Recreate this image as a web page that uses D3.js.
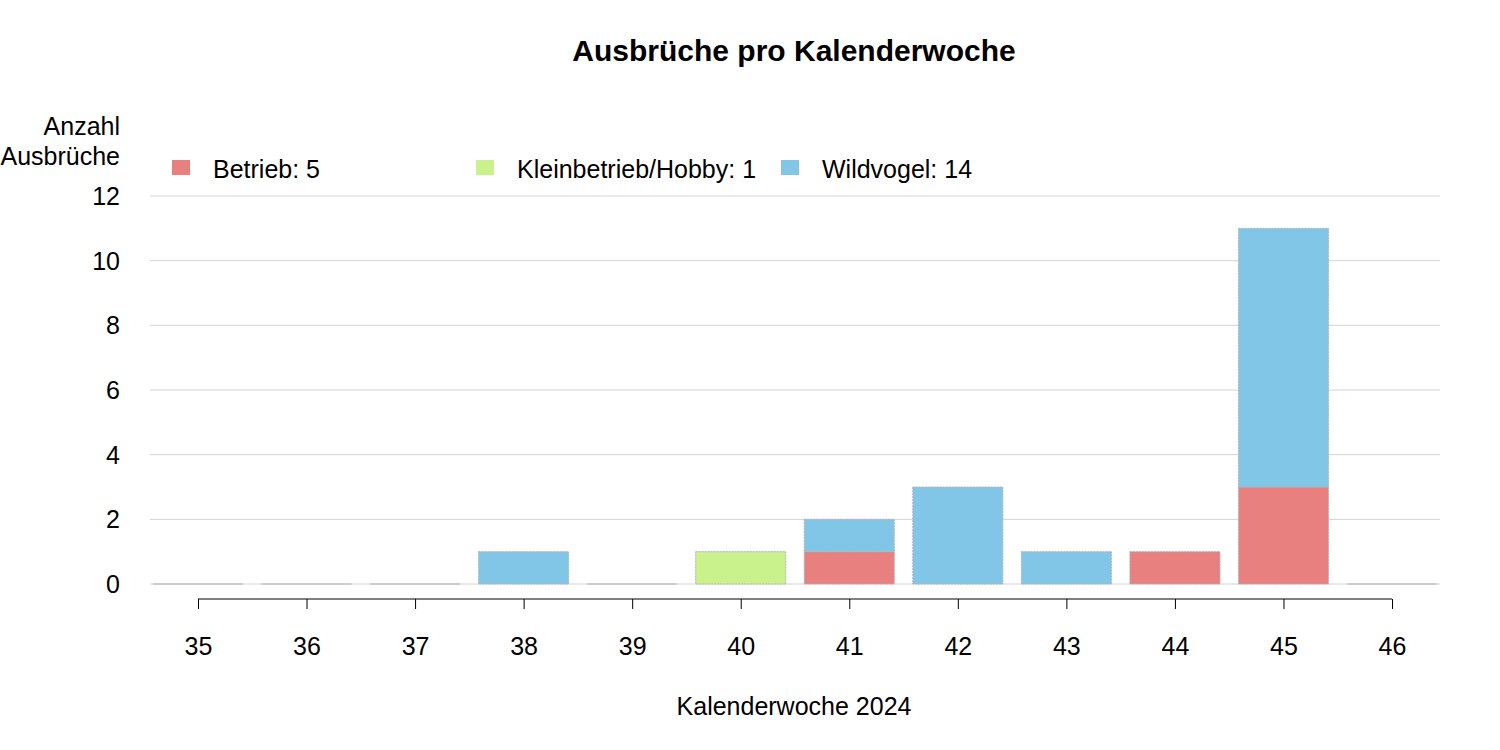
<!DOCTYPE html>
<html>
<head>
<meta charset="utf-8">
<script src="https://cdn.jsdelivr.net/npm/d3@7"></script>
<style>
  body { margin: 0; background: #fff; }
  text { font-family: "Liberation Sans", Arial, sans-serif; fill: #000; }
</style>
</head>
<body>
<svg id="chart" width="1500" height="750"></svg>
<script>
const weeks = [35, 36, 37, 38, 39, 40, 41, 42, 43, 44, 45, 46]
const betrieb = [0, 0, 0, 0, 0, 0, 1, 0, 0, 1, 3, 0]
const kleinbetrieb = [0, 0, 0, 0, 0, 1, 0, 0, 0, 0, 0, 0]
const wildvogel = [0, 0, 0, 1, 0, 0, 1, 3, 1, 0, 8, 0]
const seriesNames = ['Betrieb', 'Kleinbetrieb/Hobby', 'Wildvogel']
const colors = ['#e88080', '#c9f28c', '#82c6e7']
const yTicks = [0, 2, 4, 6, 8, 10, 12]

const svg = d3.select('#chart')
const fs = '25px'

const rows = weeks.map((w, i) => ({
    week: w, Betrieb: betrieb[i], 'Kleinbetrieb/Hobby': kleinbetrieb[i], Wildvogel: wildvogel[i]
}))

const x = d3.scaleBand().domain(weeks).range([143.7, 1446.3]).paddingInner(0.17).paddingOuter(0.085)
const y = d3.scaleLinear().domain([0, 12]).range([584, 196])

// Titel
svg.append('text').attr('x', 794).attr('y', 61).attr('text-anchor', 'middle')
    .style('font-size', '30px').style('font-weight', 'bold').text('Ausbrüche pro Kalenderwoche')

// Gitterlinien
svg.append('g').selectAll('line').data(yTicks).enter().append('line')
    .attr('x1', 150).attr('x2', 1440)
    .attr('y1', d => y(d)).attr('y2', d => y(d))
    .attr('stroke', '#d3d3d3').attr('stroke-width', 1)

// y Beschriftung
svg.append('g').selectAll('text').data(yTicks).enter().append('text')
    .attr('x', 120).attr('y', d => y(d) + 9).attr('text-anchor', 'end')
    .style('font-size', fs).text(d => d)

svg.append('text').attr('x', 120).attr('y', 135).attr('text-anchor', 'end').style('font-size', fs).text('Anzahl')
svg.append('text').attr('x', 120).attr('y', 165).attr('text-anchor', 'end').style('font-size', fs).text('Ausbrüche')

// Balken
const stacked = d3.stack().keys(seriesNames)(rows)
svg.append('g').selectAll('g').data(stacked).enter().append('g')
    .attr('fill', (d, i) => colors[i])
    .selectAll('rect').data(d => d.filter(p => p[1] > p[0])).enter().append('rect')
    .attr('x', d => x(d.data.week)).attr('width', x.bandwidth())
    .attr('y', d => y(d[1])).attr('height', d => y(d[0]) - y(d[1]))
    .attr('stroke', '#b4b4b4').attr('stroke-width', 1).attr('stroke-dasharray', '2,1')

// Nullbalken
const totals = weeks.map((w, i) => betrieb[i] + kleinbetrieb[i] + wildvogel[i])
svg.append('g').selectAll('line').data(weeks.filter((w, i) => totals[i] === 0)).enter().append('line')
    .attr('x1', d => x(d)).attr('x2', d => x(d) + x.bandwidth())
    .attr('y1', y(0)).attr('y2', y(0))
    .attr('stroke', '#b4b4b4').attr('stroke-width', 1.2)

// x Achse
const xc = d3.scaleLinear().domain([35, 46]).range([x(35) + x.bandwidth() / 2, x(46) + x.bandwidth() / 2])
const axis = svg.append('g').attr('transform', 'translate(0,599)')
    .call(d3.axisBottom(xc).tickValues(weeks).tickSize(10).tickPadding(26).tickFormat(d3.format('d')))
axis.select('.domain').attr('stroke', '#000').attr('d', `M${xc(35)},0H${xc(46)}`)
axis.selectAll('.tick line').attr('stroke', '#000')
axis.selectAll('.tick text').style('font-size', fs).style('font-family', '"Liberation Sans", Arial, sans-serif')
    .attr('fill', '#000').attr('dy', null).attr('y', 56)

svg.append('text').attr('x', 794).attr('y', 715).attr('text-anchor', 'middle').style('font-size', fs).text('Kalenderwoche 2024')

// Legende
const sums = [d3.sum(betrieb), d3.sum(kleinbetrieb), d3.sum(wildvogel)]
const legX = [172, 476, 781]
const leg = svg.append('g').selectAll('g').data(seriesNames).enter().append('g')
    .attr('transform', (d, i) => `translate(${legX[i]},160)`)
leg.append('rect').attr('width', 18).attr('height', 15).attr('fill', (d, i) => colors[i])
leg.append('text').attr('x', 41).attr('y', 18).style('font-size', fs).text((d, i) => `${d}: ${sums[i]}`)
</script>
</body>
</html>
